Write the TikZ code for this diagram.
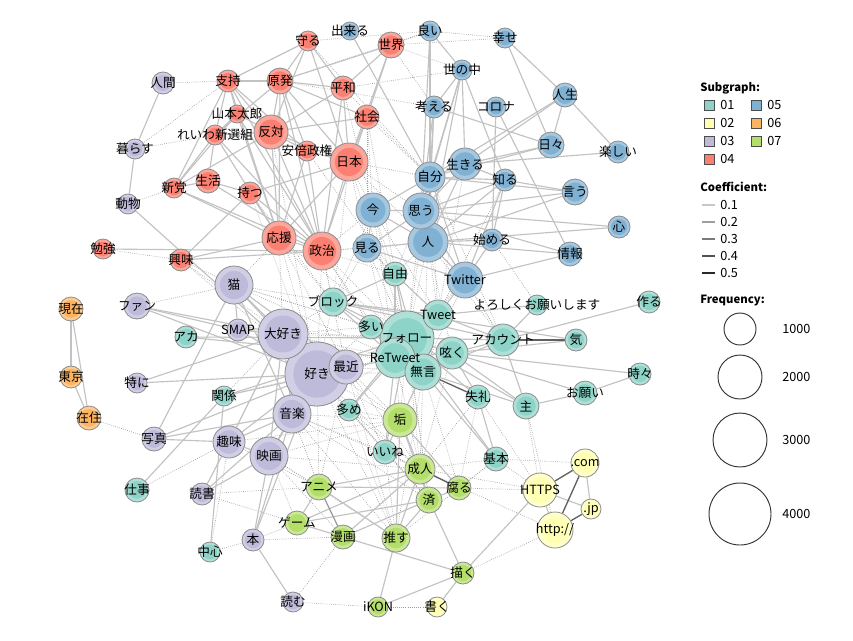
\documentclass[tikz,border=0pt]{standalone}
\usepackage{fontspec}
\setmainfont{Noto Sans CJK JP}
\usetikzlibrary{calc,backgrounds}
\definecolor{c01}{HTML}{8DD3C7}
\definecolor{c02}{HTML}{FFFFB3}
\definecolor{c03}{HTML}{BEBADA}
\definecolor{c04}{HTML}{FB8072}
\definecolor{c05}{HTML}{80B1D3}
\definecolor{c06}{HTML}{FDB462}
\definecolor{c07}{HTML}{B3DE69}

\tikzset{
  word/.style={circle, draw=black!45, line width=0.6pt, inner sep=0pt, minimum size=#1*1.5pt},
  grp/.style={fill=#1!70!white, path picture={
      \fill[#1] let \p1=(path picture bounding box.east), \p2=(path picture bounding box.center)
        in (\p2) circle ({0.74*(\x1-\x2)});}},
  wtxt/.style={font=\fontsize{9.5}{10}\selectfont, inner sep=0pt},
  lgtxt/.style={font=\fontsize{9.5}{10}\selectfont, inner sep=0pt, anchor=west},
  lghead/.style={font=\bfseries\fontsize{8.5}{10}\selectfont, inner sep=0pt, anchor=west},
  sqbox/.style={draw=black!70, line width=0.5pt, inner sep=0pt, minimum size=7.5pt},
  e1/.style={draw=black!24, line width=0.85pt},
  e2/.style={draw=black!40, line width=0.9pt},
  e3/.style={draw=black!62, line width=1pt},
  dl/.style={draw=black!38, line width=0.5pt, dash pattern=on 0.5pt off 1.1pt},
}

% name/x/y/radius/colour/text
\def\wordlist{%
mamoru/308/41/10/c04/守る, sekai/391/45/13/c04/世界, shiji/228/81/11/c04/支持,
genpatsu/280/81/13/c04/原発, heiwa/343/88/12/c04/平和, shakai/367/117/12/c04/社会,
hantai/271/132/17/c04/反対, yamamoto/237/114/9/c04/山本太郎, reiwa/215/135/10/c04/れいわ新選組,
abe/307/151/10/c04/安倍政権, nihon/349/162/19/c04/日本, seikatsu/208/181/12/c04/生活,
shinto/174/188/10/c04/新党, motsu/250/193/11/c04/持つ, ouen/279/238/17/c04/応援,
seiji/322/251/19/c04/政治, benkyo/103/249/10/c04/勉強, kyomi/181/260/11/c04/興味,
ningen/163/83/11/c03/人間, kurasu/135/149/10/c03/暮らす, dobutsu/128/204/10/c03/動物,
neko/234/285/19/c03/猫, fan/137/306/13/c03/ファン, suki/317/374/32/c03/好き,
daisuki/283/334/25/c03/大好き, smap/238/330/11/c03/SMAP, saikin/346/367/17/c03/最近,
tokuni/137/383/10/c03/特に, ongaku/292/414/19/c03/音楽, eiga/269/456/19/c03/映画,
shumi/229/442/16/c03/趣味, shashin/154/439/12/c03/写真, dokusho/202/494/11/c03/読書,
hon/253/540/11/c03/本, yomu/293/602/10/c03/読む,
follow/407/338/27/c01/フォロー, retweet/395/358/20/c01/ReTweet, mugon/423/372/18/c01/無言,
jiyu/395/274/12/c01/自由, block/333/302/14/c01/ブロック, ooi/371/327/12/c01/多い,
tweet/438/315/15/c01/Tweet, tsubuyaku/452/353/16/c01/呟く, account/503/340/16/c01/アカウント,
ki/576/340/11/c01/気, tsukuru/649/302/11/c01/作る, yoroshiku/537/305/10/c01/よろしくお願いします,
tokidoki/640/374/11/c01/時々, onegai/585/393/12/c01/お願い, nushi/526/406/13/c01/主,
shitsurei/478/397/12/c01/失礼, oome/349/410/11/c01/多め, kankei/224/396/10/c01/関係,
aka/186/337/11/c01/アカ, shigoto/137/490/12/c01/仕事, chushin/210/552/10/c01/中心,
iine/385/452/12/c01/いいね, kihon/496/459/12/c01/基本,
aka2/400/420/17/c07/垢, seijin/420/469/15/c07/成人, sumi/429/500/13/c07/済,
kusaru/459/488/12/c07/腐る, anime/319/487/13/c07/アニメ, game/297/523/12/c07/ゲーム,
manga/343/537/12/c07/漫画, osu/396/538/14/c07/推す, egaku/463/573/11/c07/描く,
ikon/378/607/10/c07/iKON,
https/540/490/17/c02/HTTPS, http/555/530/18/c02/{http://}, com/585/463/14/c02/.com,
jp/591/509/10/c02/.jp, kaku/437/607/10/c02/書く,
genzai/71/309/12/c06/現在, tokyo/71/377/11/c06/東京, zaiju/89/418/12/c06/在住,
dekiru/350/31/9/c05/出来る, yoi/430/31/10/c05/良い, shiawase/505/38/10/c05/幸せ,
yononaka/462/70/10/c05/世の中, jinsei/565/95/12/c05/人生, kangaeru/434/107/11/c05/考える,
corona/496/107/10/c05/コロナ, hibi/551/145/13/c05/日々, tanoshii/618/152/11/c05/楽しい,
hito/428/242/20/c05/人, omou/421/211/18/c05/思う, jibun/430/177/15/c05/自分,
ikiru/465/164/16/c05/生きる, shiru/505/180/11/c05/知る, iu/575/192/13/c05/言う,
ima/373/210/17/c05/今, kokoro/619/227/11/c05/心, miru/367/248/14/c05/見る,
hajimeru/492/240/11/c05/始める, joho/570/254/12/c05/情報, twitter/465/280/18/c05/Twitter}

\begin{document}
\begin{tikzpicture}[x=0.75pt, y=-0.75pt]
    \path[use as bounding box] (0,0) rectangle (853,640);

    % Word circles
    \foreach \n/\x/\y/\rad/\col/\lbl in \wordlist {
        \node[word=\rad, grp=\col] (\n) at (\x,\y) {};
    }

    \begin{scope}[on background layer]
    \fill[white] (0,0) rectangle (853,640);

    % Links across subgraphs
    \foreach \na/\nb in {ningen/shiji, kurasu/reiwa, dobutsu/shinto, fan/neko, zaiju/shashin,
        shigoto/shumi, dokusho/anime, hon/game, chushin/hon, yomu/ikon, ikon/kaku, yomu/manga,
        http/egaku, https/kusaru, https/kihon, http/seijin, sekai/yoi, sekai/shiawase,
        heiwa/yononaka, seiji/jiyu, nihon/ima, nihon/omou, ouen/suki, seiji/suki, neko/block,
        daisuki/follow, suki/follow, saikin/retweet, ongaku/aka2, eiga/anime, suki/aka2,
        suki/anime, miru/follow, ima/follow, hito/follow, omou/follow, jibun/tweet, hito/tweet,
        twitter/follow, aka2/follow, aka2/mugon, aka2/retweet, seijin/follow, sumi/follow,
        iine/aka2, oome/aka2, suki/iine, saikin/iine, ongaku/iine, motsu/suki, kyomi/suki,
        kyomi/daisuki, benkyo/kyomi, seiji/miru, seiji/ima, nihon/jibun, shakai/jibun,
        heiwa/jibun, mamoru/jibun, genpatsu/kangaeru, sekai/kangaeru, nihon/hito, seiji/hito,
        seiji/follow, ouen/follow, ouen/daisuki, neko/kyomi, seiji/block, eiga/game,
        ongaku/anime, eiga/manga, saikin/aka2, daisuki/block, suki/block, suki/ooi,
        kankei/suki, kankei/daisuki, block/ima, block/miru, mugon/seijin, tsubuyaku/seijin,
        mugon/kusaru, shitsurei/kusaru, account/twitter, yoroshiku/hajimeru, iine/seijin,
        iine/sumi, oome/seijin, http/nushi, com/kihon, https/seijin, shitsurei/https,
        kihon/seijin, genpatsu/yoi, shiji/kurasu, saikin/anime, ongaku/seijin, suki/sumi,
        daisuki/ooi, neko/ooi, ima/retweet, miru/retweet, jibun/follow, nihon/follow,
        seiji/retweet, ouen/neko, eiga/osu, ongaku/osu, yoi/shiawase, mamoru/yoi,
        sekai/yononaka, shakai/ima, hito/mugon, omou/tsubuyaku, ikiru/tweet, shiru/tweet,
        kihon/kusaru, nushi/https, hon/manga, dokusho/game, chushin/shumi,
        nihon/block, shakai/follow, heiwa/ima, hantai/suki, abe/jiyu, ouen/saikin,
        seiji/saikin, seiji/ooi, ouen/block, motsu/block, nihon/miru, shakai/miru,
        daisuki/retweet, suki/retweet, suki/mugon, daisuki/mugon, saikin/mugon,
        ongaku/retweet, ongaku/follow, eiga/aka2, eiga/seijin, shumi/anime, shumi/aka2,
        saikin/seijin, saikin/osu, suki/osu, suki/seijin, daisuki/aka2, ongaku/sumi,
        neko/follow, neko/retweet, smap/follow, ima/tweet, miru/tweet, miru/jiyu,
        ima/jiyu, omou/jiyu, hito/jiyu, jibun/account, hito/account, omou/account,
        twitter/mugon, twitter/retweet, iine/kusaru, oome/sumi, oome/osu, iine/osu,
        retweet/seijin, follow/sumi, mugon/osu, shitsurei/seijin, kihon/osu} {
        \draw[dl] (\na) -- (\nb);
    }

    % Links inside subgraphs
    \foreach \na/\nb in {mamoru/genpatsu, mamoru/hantai, mamoru/nihon, mamoru/heiwa, mamoru/shiji,
        sekai/heiwa, sekai/shakai, sekai/genpatsu, sekai/nihon, shiji/genpatsu, shiji/yamamoto,
        shiji/reiwa, shiji/hantai, shiji/abe, shiji/ouen, shiji/seiji, shiji/shinto,
        genpatsu/hantai, genpatsu/heiwa, genpatsu/nihon, genpatsu/shakai, genpatsu/seiji,
        genpatsu/ouen, genpatsu/reiwa, genpatsu/abe, heiwa/nihon, heiwa/hantai, heiwa/seiji,
        shakai/nihon, shakai/hantai, shakai/seiji, yamamoto/reiwa, yamamoto/hantai,
        yamamoto/shinto, yamamoto/ouen, yamamoto/seiji, reiwa/shinto, reiwa/ouen, reiwa/seiji,
        reiwa/hantai, reiwa/seikatsu, hantai/abe, hantai/nihon, hantai/seiji, hantai/ouen,
        hantai/shinto, abe/nihon, abe/seiji, abe/ouen, nihon/seiji, nihon/ouen, nihon/motsu,
        seikatsu/shinto, seikatsu/motsu, seikatsu/seiji, motsu/seiji, motsu/kyomi, motsu/ouen,
        ouen/seiji, benkyo/seiji, kyomi/seiji, kyomi/ouen, shinto/seiji, shinto/ouen,
        ningen/kurasu, kurasu/dobutsu, dobutsu/suki, neko/daisuki, neko/suki, neko/shashin,
        neko/saikin, neko/ongaku, neko/smap, fan/smap, fan/daisuki, fan/suki, smap/daisuki,
        smap/suki, daisuki/suki, daisuki/ongaku, daisuki/eiga, daisuki/shumi, daisuki/saikin,
        suki/saikin, suki/ongaku, suki/eiga, suki/shumi, suki/tokuni, suki/shashin,
        tokuni/daisuki, ongaku/eiga, ongaku/shumi, ongaku/shashin, shumi/eiga, shumi/shashin,
        shumi/dokusho, eiga/dokusho, eiga/hon, hon/yomu, hon/ongaku, dokusho/ongaku, suki/hon,
        follow/tweet, follow/tsubuyaku, follow/account, follow/block, follow/ooi, follow/jiyu,
        follow/shitsurei, follow/nushi, follow/iine, follow/oome, follow/kihon,
        retweet/tsubuyaku, retweet/block, retweet/iine, retweet/oome, retweet/jiyu, retweet/ooi,
        mugon/tsubuyaku, mugon/account, mugon/nushi, mugon/kihon, mugon/iine,
        tsubuyaku/account, tsubuyaku/ki, tsubuyaku/onegai, tsubuyaku/tokidoki,
        tsubuyaku/shitsurei, tsubuyaku/nushi, account/tsukuru, account/nushi,
        account/yoroshiku, block/tweet, block/account, block/ki, block/ooi, block/jiyu,
        onegai/tokidoki, onegai/nushi, tweet/account, tweet/yoroshiku, kankei/follow,
        kankei/retweet, aka/follow, aka/retweet, shigoto/kankei, chushin/kankei, jiyu/tweet,
        shitsurei/kihon, jiyu/mugon, twitter/tweet,
        dekiru/jibun, yoi/jibun, yoi/omou, yoi/yononaka, shiawase/hibi, shiawase/jinsei,
        yononaka/jibun, yononaka/omou, yononaka/ikiru, yononaka/kangaeru, yononaka/hito,
        yononaka/shiru, jinsei/hibi, jinsei/tanoshii, jinsei/ikiru, jinsei/jibun,
        kangaeru/jibun, kangaeru/omou, kangaeru/hibi, kangaeru/hito, corona/hajimeru,
        corona/joho, hibi/ikiru, hibi/jibun, tanoshii/ikiru, ikiru/jibun, ikiru/omou,
        ikiru/hito, ikiru/shiru, jibun/omou, jibun/hito, jibun/ima, jibun/shiru, jibun/iu,
        jibun/twitter, shiru/iu, shiru/hajimeru, shiru/omou, shiru/hito, shiru/twitter,
        iu/omou, iu/hito, omou/ima, omou/hito, omou/miru, omou/kokoro, ima/hito, ima/miru,
        kokoro/hito, hito/miru, hito/twitter, hito/hajimeru, hito/joho, hajimeru/twitter,
        joho/twitter, joho/omou, miru/twitter, omou/twitter,
        aka2/seijin, aka2/sumi, aka2/osu, aka2/kusaru, seijin/sumi, seijin/osu, seijin/anime,
        seijin/manga, sumi/kusaru, sumi/osu, sumi/manga, sumi/egaku, anime/game,
        anime/kusaru, anime/osu, game/manga, game/seijin, game/sumi, manga/egaku, osu/ikon,
        egaku/ikon, com/jp, https/http, https/jp, egaku/kaku, egaku/https,
        genzai/tokyo, genzai/zaiju, tokyo/zaiju} {
        \draw[e1] (\na) -- (\nb);
    }
    \foreach \na/\nb in {follow/retweet, follow/mugon, retweet/mugon, anime/manga, jibun/hito} {
        \draw[e2] (\na) -- (\nb);
    }
    \foreach \na/\nb in {mugon/shitsurei, account/ki, seijin/kusaru, com/https, com/http, http/jp} {
        \draw[e3] (\na) -- (\nb);
    }
    \end{scope}

    % Word texts
    \foreach \n/\x/\y/\rad/\col/\lbl in \wordlist {
        \node[wtxt] (\n-t) at (\n) {\lbl};
    }

    % Legend
    \node[lghead] (subhd) at (700,88) {Subgraph:};
    \foreach \k/\x/\y in {01/709/105, 02/709/123, 03/709/141, 04/709/159,
        05/756/105, 06/756/123, 07/756/141} {
        \node[sqbox, fill=c\k] (sq\k) at (\x,\y) {};
        \node[lgtxt] (lg\k) at (\x+11,\y) {\k};
    }
    \node[lghead] (cfhd) at (700,187) {Coefficient:};
    \foreach \c/\y/\sh [count=\i] in {0.1/205/22, 0.2/222/38, 0.3/239/52, 0.4/256/68, 0.5/273/84} {
        \draw[black!\sh, line width=1.1pt] (702,\y) -- (715,\y);
        \node[lgtxt] (cf\i) at (720,\y) {\c};
    }
    \node[lghead] (fqhd) at (700,301) {Frequency:};
    \foreach \f/\y/\rr in {1000/329/16, 2000/377/22, 3000/440/27, 4000/514/31} {
        \node[circle, draw=black!80, line width=0.7pt, inner sep=0pt, minimum size=\rr*1.5pt] (fq\f) at (740,\y) {};
        \node[lgtxt] (fl\f) at (782,\y) {\f};
    }
\end{tikzpicture}
\end{document}
